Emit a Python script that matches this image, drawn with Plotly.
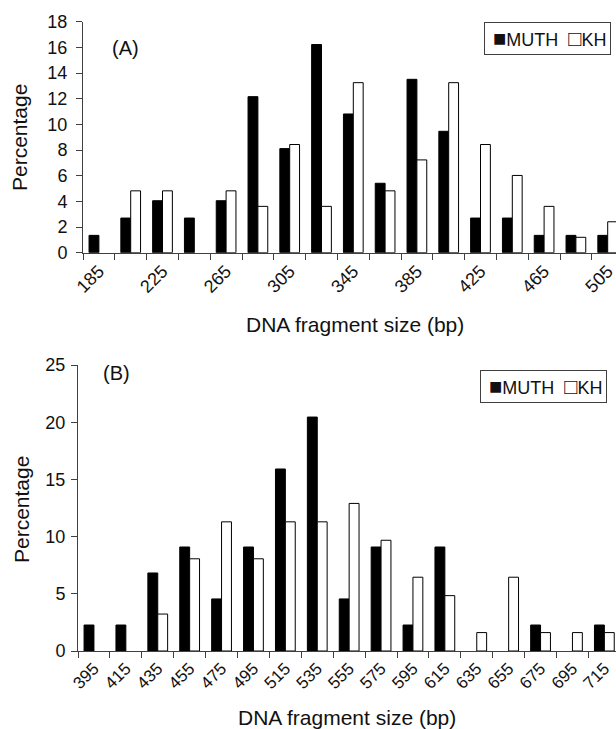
import plotly.graph_objects as go
from plotly.subplots import make_subplots

# ---------------- data ----------------
sizes_A = [185, 205, 225, 245, 265, 285, 305, 325, 345, 365, 385, 405, 425, 445, 465, 485, 505]
muth_A = [1.35, 2.70, 4.05, 2.70, 4.05, 12.16, 8.11, 16.22, 10.81, 5.41, 13.51, 9.46, 2.70, 2.70, 1.35, 1.35, 1.35]
kh_A = [None, 4.82, 4.82, None, 4.82, 3.61, 8.43, 3.61, 13.25, 4.82, 7.23, 13.25, 8.43, 6.02, 3.61, 1.20, 2.41]

sizes_B = [395, 415, 435, 455, 475, 495, 515, 535, 555, 575, 595, 615, 635, 655, 675, 695, 715]
muth_B = [2.27, 2.27, 6.82, 9.09, 4.55, 9.09, 15.91, 20.45, 4.55, 9.09, 2.27, 9.09, None, None, 2.27, None, 2.27]
kh_B = [None, None, 3.23, 8.06, 11.29, 8.06, 11.29, 11.29, 12.90, 9.68, 6.45, 4.84, 1.61, 6.45, 1.61, 1.61, 1.61]

ticks_A = [185, 225, 265, 305, 345, 385, 425, 465, 505]
ticks_B = sizes_B
yticks_A = [0, 2, 4, 6, 8, 10, 12, 14, 16, 18]
yticks_B = [0, 5, 10, 15, 20, 25]

series_names = ["MUTH", "KH"]
# --------------------------------------

W, H = 616, 729
FONT = "Liberation Sans, Arial, sans-serif"


def px(x):
    return x / W


def py(y):
    return 1 - y / H


fig = make_subplots(rows=2, cols=1)

line = dict(color="black", width=1)
for row, (sizes, m, k) in enumerate([(sizes_A, muth_A, kh_A), (sizes_B, muth_B, kh_B)], start=1):
    fig.add_trace(go.Bar(x=sizes, y=m, name=series_names[0], marker=dict(color="black", line=line),
                         showlegend=False), row=row, col=1)
    fig.add_trace(go.Bar(x=sizes, y=k, name=series_names[1], marker=dict(color="white", line=line),
                         showlegend=False), row=row, col=1)

axcol = "#404040"
common_x = dict(showgrid=False, zeroline=False, showline=True, linecolor=axcol, linewidth=1,
                ticks="", tickangle=-45, ticklabeloverflow="allow")
common_y = dict(showgrid=False, zeroline=False, showline=True, linecolor=axcol, linewidth=1,
                ticks="outside", ticklen=6, tickcolor=axcol,
                tickfont=dict(size=18, color="#111", family=FONT))

# panel A
fig.update_xaxes(row=1, col=1, domain=[px(83), 1], range=[175, 175 + (616 - 83) / 31.8 * 20],
                 tickmode="array", tickvals=ticks_A, ticktext=[str(t) for t in ticks_A],
                 tickfont=dict(size=18, color="#111", family=FONT),
                 minor=dict(ticks="outside", tick0=175, dtick=20, ticklen=6, tickcolor=axcol),
                 **common_x)
fig.update_yaxes(row=1, col=1, domain=[py(252.7), py(21.7)], range=[0, 18],
                 tickmode="array", tickvals=yticks_A, ticklabelstandoff=5, **common_y)

# panel B
fig.update_xaxes(row=2, col=1, domain=[px(78), 1], range=[385, 385 + (616 - 78) / 31.9 * 20],
                 tickmode="array", tickvals=ticks_B, ticktext=[str(t) for t in ticks_B],
                 tickfont=dict(size=17, color="#111", family=FONT),
                 minor=dict(ticks="outside", tick0=385, dtick=20, ticklen=6, tickcolor=axcol),
                 **common_x)
fig.update_yaxes(row=2, col=1, domain=[py(651), py(365)], range=[0, 25],
                 tickmode="array", tickvals=yticks_B, ticklabelstandoff=2, **common_y)

title_font = dict(size=21, color="#111", family=FONT)
ann = []
# axis titles
ann.append(dict(text="DNA fragment size (bp)", x=px(355), y=py(325), xref="paper", yref="paper",
                showarrow=False, font=title_font, xanchor="center", yanchor="middle"))
ann.append(dict(text="DNA fragment size (bp)", x=px(347), y=py(717), xref="paper", yref="paper",
                showarrow=False, font=title_font, xanchor="center", yanchor="middle"))
ann.append(dict(text="Percentage", x=px(19), y=py(138), xref="paper", yref="paper", textangle=-90,
                showarrow=False, font=title_font, xanchor="center", yanchor="middle"))
ann.append(dict(text="Percentage", x=px(21), y=py(510), xref="paper", yref="paper", textangle=-90,
                showarrow=False, font=title_font, xanchor="center", yanchor="middle"))
# panel labels
ann.append(dict(text="(A)", x=px(110), y=py(35), xref="paper", yref="paper",
                showarrow=False, font=dict(size=20, color="#111", family=FONT)))
ann.append(dict(text="(B)", x=px(101), y=py(373), xref="paper", yref="paper",
                showarrow=False, font=dict(size=20, color="#111", family=FONT)))
# legends (boxed key text)
sq = '<span style="font-size:22px">%s</span>'
legend_text = " " + sq % "■" + series_names[0] + "  " + sq % "□" + series_names[1]
for lx, ly in [(484, 22), (480, 370)]:
    ann.append(dict(text=legend_text, x=px(lx), y=py(ly), xref="paper", yref="paper",
                    xanchor="left", yanchor="top", showarrow=False, align="left",
                    font=dict(size=18, color="#111", family=FONT),
                    bordercolor="#404040", borderwidth=1, borderpad=3, bgcolor="white"))

fig.update_layout(width=W, height=H, margin=dict(l=0, r=0, t=0, b=0, autoexpand=False),
                  plot_bgcolor="white", paper_bgcolor="white",
                  barmode="group", bargap=0.38, bargroupgap=0.0,
                  annotations=ann, font=dict(family=FONT))

fig.write_html("out.html", config={"displayModeBar": False},
               post_script="document.body.style.margin='0';document.body.style.overflow='hidden';")
